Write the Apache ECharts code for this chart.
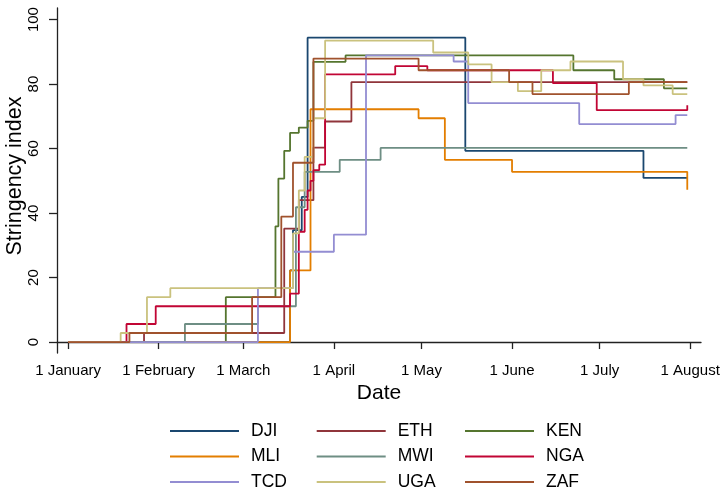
<!DOCTYPE html>
<html>
<head>
<meta charset="utf-8">
<script src="https://cdn.jsdelivr.net/npm/echarts@6/dist/echarts.min.js"></script>
<style>
html,body{margin:0;padding:0;background:#fff;}
#c{width:721px;height:491px;}
</style>
</head>
<body>
<div id="c"></div>
<script>
// ---- data ----
const countries = ['DJI','ETH','KEN','MLI','MWI','NGA','TCD','UGA','ZAF'];
const colors = ['#1a476f','#90353b','#55752f','#e37e00','#6e8e84','#c10534','#938dd2','#cac27e','#a0522d'];

const DJI = [['2020-01-01',0],['2020-03-17',22.2],['2020-03-18',34.7],['2020-03-21',45],['2020-03-23',94.4],['2020-05-16',59.3],['2020-07-16',50.9],['2020-07-31',50.9]];
const ETH = [['2020-01-01',0],['2020-01-27',2.8],['2020-03-15',35.2],['2020-03-20',44],['2020-03-25',60.3],['2020-03-29',68.4],['2020-04-07',80.6],['2020-07-31',80.6]];
const KEN = [['2020-01-01',0],['2020-02-24',13.9],['2020-03-12',35.9],['2020-03-13',50.7],['2020-03-15',59.3],['2020-03-17',64.9],['2020-03-20',66.5],['2020-03-23',68.6],['2020-03-25',86.9],['2020-04-05',88.9],['2020-06-22',84.3],['2020-07-06',81.5],['2020-07-23',78.7],['2020-07-31',78.7]];
const MLI = [['2020-01-01',0],['2020-03-17',22.2],['2020-03-24',72.2],['2020-04-30',69.4],['2020-05-09',56.5],['2020-06-01',52.8],['2020-07-31',47.2]];
const MWI = [['2020-01-01',0],['2020-02-10',5.6],['2020-03-06',11.1],['2020-03-19',41.8],['2020-03-22',52.8],['2020-04-03',56.5],['2020-04-17',60.2],['2020-07-31',60.2]];
const NGA = [['2020-01-01',0],['2020-01-21',5.6],['2020-01-31',11.1],['2020-03-17',15],['2020-03-20',34.2],['2020-03-22',41],['2020-03-23',47],['2020-03-24',50],['2020-03-25',53.3],['2020-03-27',55],['2020-03-29',83],['2020-04-22',85.6],['2020-05-03',84.3],['2020-06-15',80.3],['2020-06-30',71.9],['2020-07-31',73.4]];
const TCD = [['2020-01-01',0],['2020-03-06',16.7],['2020-03-18',28],['2020-04-01',33.3],['2020-04-12',88.9],['2020-05-12',87],['2020-05-17',74.1],['2020-06-24',67.6],['2020-07-27',70.4],['2020-07-31',70.4]];
const UGA = [['2020-01-01',0],['2020-01-19',2.8],['2020-01-28',13.9],['2020-02-05',16.7],['2020-03-18',33.7],['2020-03-20',47],['2020-03-22',57.4],['2020-03-25',69.4],['2020-03-29',93.5],['2020-05-05',89.8],['2020-05-17',86.1],['2020-05-25',80.6],['2020-06-03',77.8],['2020-06-11',84.3],['2020-06-21',87],['2020-07-09',81.5],['2020-07-16',79.6],['2020-07-26',76.9],['2020-07-31',76.9]];
const ZAF = [['2020-01-01',0],['2020-01-22',2.8],['2020-03-04',13.9],['2020-03-14',38.9],['2020-03-18',55.6],['2020-03-25',87.9],['2020-04-30',84.3],['2020-05-31',80.6],['2020-06-08',76.9],['2020-07-11',80.6],['2020-07-31',80.6]];

const xTickDates = ['2020-01-01','2020-02-01','2020-03-01','2020-04-01','2020-05-01','2020-06-01','2020-07-01','2020-08-01'];
const xTickLabels = ['1 January','1 February','1 March','1 April','1 May','1 June','1 July','1 August'];
const yTicks = [0,20,40,60,80,100];
const yTitle = 'Stringency index';

const legendCols = [['DJI','MLI','TCD'],['ETH','MWI','UGA'],['KEN','NGA','ZAF']];

// ---- build ----
const DAY = 86400000;
function ts(s){const p=s.split('-').map(Number);return Date.UTC(p[0],p[1]-1,p[2]);}
const seriesData = {DJI,ETH,KEN,MLI,MWI,NGA,TCD,UGA,ZAF};
const tickTs = xTickDates.map(ts);
const labelMap = {};
tickTs.forEach((t,i)=>{labelMap[t]=xTickLabels[i];});
const FONT = '"Liberation Sans", Arial, Helvetica, sans-serif';

const chart = echarts.init(document.getElementById('c'), null, {renderer:'canvas'});
const legendLefts = [170, 316.7, 465];
const option = {
  animation:false,
  backgroundColor:'#fff',
  grid:{left:57, right:20, top:8, bottom:138, containLabel:false, outerBoundsMode:'none'},
  graphic:[{
    type:'text', x:15, y:176, rotation:Math.PI/2, silent:true,
    style:{text:yTitle, textAlign:'center', textVerticalAlign:'middle', fontSize:21.5, fontFamily:FONT, fill:'#000'}
  }],
  xAxis:{
    type:'value',
    min: ts('2020-01-01') - 3.8*DAY,
    max: ts('2020-01-01') + 216.7*DAY,
    name:'Date', nameLocation:'middle', nameGap:30,
    nameTextStyle:{fontSize:21, color:'#000', fontFamily:FONT},
    axisLine:{show:true, lineStyle:{color:'#222', width:1.3}},
    axisTick:{show:true, length:7, lineStyle:{color:'#222', width:1.3}, customValues:tickTs},
    axisLabel:{customValues:tickTs, margin:10, fontSize:15, color:'#000', fontFamily:FONT, hideOverlap:false,
      formatter:function(v){return labelMap[v]||'';}},
    splitLine:{show:false}
  },
  yAxis:{
    type:'value', min:-3.4, max:103.6,
    axisLine:{show:true, lineStyle:{color:'#222', width:1.3}},
    axisTick:{show:true, length:8, lineStyle:{color:'#222', width:1.3}, customValues:yTicks},
    axisLabel:{customValues:yTicks, rotate:90, margin:16, fontSize:15, color:'#000', fontFamily:FONT},
    splitLine:{show:false}
  },
  legend: legendCols.map((col,i)=>({
    data:col, orient:'vertical', left:legendLefts[i], top:422, padding:0, height:69,
    icon:'rect', itemWidth:69, itemHeight:2, itemGap:7.5,
    selectedMode:false,
    textStyle:{fontSize:17.5, color:'#000', fontFamily:FONT, padding:[0,0,0,7], lineHeight:18}
  })),
  series: countries.map((c,i)=>({
    name:c, type:'line', step:'end', symbol:'none', showSymbol:false,
    data: seriesData[c].map(d=>[ts(d[0]), d[1]]),
    color: colors[i],
    lineStyle:{width:1.8, color:colors[i]},
    itemStyle:{color:colors[i]},
    emphasis:{disabled:true}
  }))
};
chart.setOption(option);
</script>
</body>
</html>
